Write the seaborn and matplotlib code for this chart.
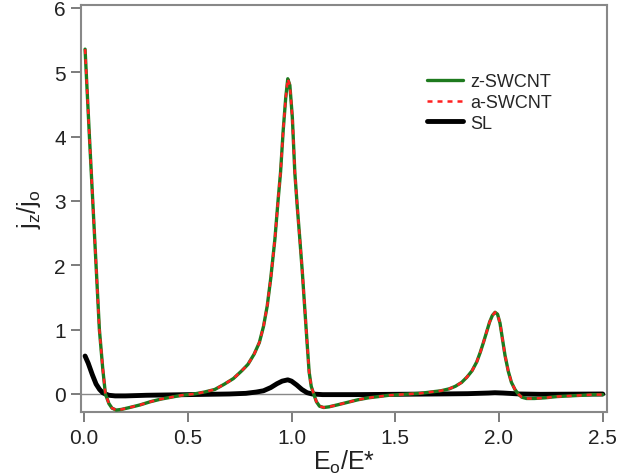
import matplotlib
matplotlib.use("Agg")
import matplotlib.pyplot as plt
import seaborn as sns

# ---- data ----
swcnt_x = [0.005, 0.026, 0.042, 0.058, 0.074, 0.09, 0.103, 0.12, 0.135, 0.155,
           0.18, 0.22, 0.27, 0.32, 0.37, 0.42, 0.47, 0.53, 0.58, 0.63,
           0.675, 0.72, 0.76, 0.79, 0.82, 0.845, 0.865, 0.883, 0.90, 0.92,
           0.935, 0.947, 0.96, 0.972, 0.982, 0.992, 1.004, 1.016, 1.028, 1.040,
           1.052, 1.063, 1.075, 1.085, 1.095, 1.107, 1.12, 1.135, 1.155, 1.18,
           1.22, 1.27, 1.32, 1.37, 1.42, 1.47, 1.52, 1.57, 1.62, 1.67,
           1.72, 1.76, 1.79, 1.82, 1.845, 1.87, 1.893, 1.91, 1.925, 1.94,
           1.955, 1.968, 1.981, 1.993, 2.005, 2.017, 2.029, 2.045, 2.06, 2.077,
           2.093, 2.11, 2.133, 2.17, 2.22, 2.28, 2.34, 2.40, 2.45, 2.50]
z_swcnt = [5.36, 4.0, 3.0, 2.0, 1.0, 0.4, 0.0, -0.15, -0.22, -0.25,
           -0.24, -0.21, -0.17, -0.12, -0.08, -0.05, -0.02, 0.0, 0.03, 0.07,
           0.15, 0.24, 0.36, 0.46, 0.62, 0.80, 1.05, 1.37, 1.8, 2.41,
           3.0, 3.44, 4.1, 4.6, 4.90, 4.8, 4.3, 3.44, 2.9, 2.41,
           1.9, 1.37, 0.8, 0.34, 0.12, 0.0, -0.12, -0.19, -0.21, -0.20,
           -0.17, -0.13, -0.09, -0.06, -0.04, -0.02, -0.01, 0.0, 0.01, 0.03,
           0.05, 0.08, 0.12, 0.18, 0.26, 0.36, 0.5, 0.65, 0.80, 0.96,
           1.12, 1.22, 1.27, 1.24, 1.1, 0.85, 0.6, 0.35, 0.18, 0.07,
           0.0, -0.05, -0.07, -0.07, -0.06, -0.04, -0.03, -0.02, -0.01, -0.01]
a_swcnt = [5.36, 4.0, 3.0, 2.0, 1.0, 0.4, 0.0, -0.15, -0.22, -0.25,
           -0.24, -0.21, -0.17, -0.12, -0.08, -0.05, -0.02, 0.0, 0.03, 0.07,
           0.15, 0.24, 0.36, 0.46, 0.62, 0.80, 1.05, 1.37, 1.8, 2.41,
           3.0, 3.44, 4.1, 4.6, 4.90, 4.8, 4.3, 3.44, 2.9, 2.41,
           1.9, 1.37, 0.8, 0.34, 0.12, 0.0, -0.12, -0.19, -0.21, -0.20,
           -0.17, -0.13, -0.09, -0.06, -0.04, -0.02, -0.01, 0.0, 0.01, 0.03,
           0.05, 0.08, 0.12, 0.18, 0.26, 0.36, 0.5, 0.65, 0.80, 0.96,
           1.12, 1.22, 1.27, 1.24, 1.1, 0.85, 0.6, 0.35, 0.18, 0.07,
           0.0, -0.05, -0.07, -0.07, -0.06, -0.04, -0.03, -0.02, -0.01, -0.01]

sl_x = [0.005, 0.02, 0.04, 0.058, 0.075, 0.09, 0.103, 0.12, 0.15, 0.2,
        0.3, 0.4, 0.5, 0.6, 0.7, 0.78, 0.83, 0.865, 0.9, 0.93,
        0.955, 0.982, 1.0, 1.025, 1.05, 1.075, 1.1, 1.15, 1.3, 1.5,
        1.7, 1.85, 1.95, 1.98, 2.02, 2.1, 2.2, 2.5]
sl_y = [0.59, 0.48, 0.30, 0.155, 0.07, 0.02, 0.0, -0.02, -0.03, -0.03,
        -0.02, -0.015, -0.01, -0.005, 0.0, 0.01, 0.03, 0.05, 0.10, 0.16,
        0.20, 0.22, 0.20, 0.14, 0.07, 0.02, 0.0, -0.01, -0.01, -0.005,
        0.0, 0.005, 0.015, 0.02, 0.015, 0.0, -0.005, 0.0]

x_ticks = [0.0, 0.5, 1.0, 1.5, 2.0, 2.5]
x_tick_labels = ["0.0", "0.5", "1.0", "1.5", "2.0", "2.5"]
y_ticks = [0, 1, 2, 3, 4, 5, 6]

# ---- style ----
sns.set_theme(style="white")
plt.rcParams["font.family"] = ["Liberation Sans", "DejaVu Sans"]
plt.rcParams["mathtext.fontset"] = "custom"
plt.rcParams["mathtext.rm"] = "Liberation Sans"
plt.rcParams["mathtext.it"] = "Liberation Sans"

fig = plt.figure(figsize=(6.39, 4.77), dpi=100)
ax = fig.add_axes([0.1268, 0.1335, 0.8226, 0.854])

ax.axhline(0, color="#888888", lw=1.0, zorder=1)

sns.lineplot(x=sl_x, y=sl_y, ax=ax, color="black", lw=3.5, sort=False,
             estimator=None, label="SL", zorder=2)
sns.lineplot(x=swcnt_x, y=z_swcnt, ax=ax, color="#1e7a1e", lw=2.4, sort=False,
             estimator=None, label="z-SWCNT", zorder=3)
sns.lineplot(x=swcnt_x, y=a_swcnt, ax=ax, color="#ff2020", lw=1.8, sort=False,
             estimator=None, label="a-SWCNT", zorder=4, linestyle=(0, (2, 2)))

ax.set_xlim(-0.0145, 2.519)
ax.set_ylim(-0.285, 6.047)
ax.set_xticks(x_ticks)
ax.set_xticklabels(x_tick_labels)
ax.set_yticks(y_ticks)

for s in ax.spines.values():
    s.set_color("#888888")
    s.set_linewidth(1.5)
    s.set_visible(True)

ax.tick_params(axis="both", direction="out", length=7, width=1.2,
               color="#666666", labelsize=15, labelcolor="#222222",
               bottom=True, left=True, top=False, right=False, pad=4)

ax.set_xlabel(r"E$_\mathrm{o}$/E*", fontsize=18, color="#222222", labelpad=1)
ax.set_ylabel(r"j$_\mathrm{z}$/j$_\mathrm{o}$", fontsize=18, color="#222222", labelpad=8)

handles, labels = ax.get_legend_handles_labels()
order = [labels.index("z-SWCNT"), labels.index("a-SWCNT"), labels.index("SL")]
ax.legend([handles[i] for i in order], [labels[i] for i in order],
          loc="upper left", bbox_to_anchor=(0.645, 0.85), frameon=False,
          fontsize=13, handlelength=2.0, handletextpad=0.4, labelspacing=0.2,
          borderaxespad=0)

fig.savefig("out.png", dpi=100)
